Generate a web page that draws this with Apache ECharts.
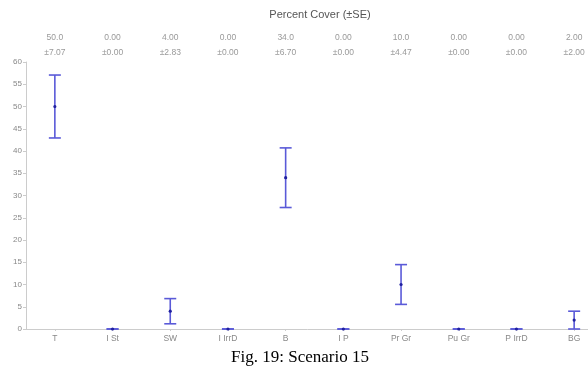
<!DOCTYPE html>
<html><head><meta charset="utf-8">
<script src="https://cdn.jsdelivr.net/npm/echarts@6/dist/echarts.min.js"></script>
<style>html,body{margin:0;padding:0;background:#fff}#c{width:588px;height:368px}</style>
</head><body><div id="c"></div>
<script>
var categories = ['T','I St','SW','I IrrD','B','I P','Pr Gr','Pu Gr','P IrrD','BG'];
var means = [50.0, 0, 4.0, 0, 34.0, 0, 10.0, 0, 0, 2.0];
var se = [7.07, 0, 2.83, 0, 6.70, 0, 4.47, 0, 0, 2.00];
var meanLabels = ['50.0','0.00','4.00','0.00','34.0','0.00','10.0','0.00','0.00','2.00'];
var seLabels = ['±7.07','±0.00','±2.83','±0.00','±6.70','±0.00','±4.47','±0.00','±0.00','±2.00'];
var yTicks = {min: 0, max: 60, interval: 5};

var topLabels = meanLabels.map(function(m, i){ return m + '\n' + seLabels[i]; });
var errData = means.map(function(m, i){ return [i, m - se[i], m + se[i], m]; });

var chart = echarts.init(document.getElementById('c'));
chart.setOption({
  animation: false,
  title: [
    {text: 'Percent Cover (±SE)', left: 315, top: 4, textAlign: 'center',
     textStyle: {fontFamily: 'Liberation Sans', fontSize: 11, fontWeight: 'normal', color: '#555'}},
    {text: 'Fig. 19: Scenario 15', left: 295, top: 344, textAlign: 'center',
     textStyle: {fontFamily: 'Liberation Serif', fontSize: 17, fontWeight: 'normal', color: '#000'}}
  ],
  grid: {left: 26, width: 577, top: 62, bottom: 39, outerBoundsMode: 'none', containLabel: false},
  xAxis: [
    {type: 'category', data: categories, position: 'bottom',
     axisLine: {lineStyle: {color: '#ccc'}},
     axisTick: {show: true, alignWithLabel: true, length: 2, lineStyle: {color: '#ccc'}},
     axisLabel: {color: '#888', fontSize: 8.5, fontFamily: 'Liberation Sans', margin: 5}},
    {type: 'category', data: topLabels, position: 'top',
     axisLine: {show: false}, axisTick: {show: false},
     axisLabel: {color: '#999', fontSize: 8.5, fontFamily: 'Liberation Sans', margin: 2, lineHeight: 15}}
  ],
  yAxis: {type: 'value', min: yTicks.min, max: yTicks.max, interval: yTicks.interval,
    axisLine: {show: true, lineStyle: {color: '#ccc'}},
    axisTick: {show: true, length: 3, lineStyle: {color: '#ccc'}},
    splitLine: {show: false},
    axisLabel: {color: '#888', fontSize: 8, fontFamily: 'Liberation Sans', margin: 4}},
  series: [{
    type: 'custom',
    data: errData,
    renderItem: function(params, api){
      var x = api.value(0);
      var lo = api.coord([x, api.value(1)]);
      var hi = api.coord([x, api.value(2)]);
      var mid = api.coord([x, api.value(3)]);
      var hw = 6;
      var st = {stroke: '#5a5ad8', lineWidth: 1.6};
      return {type: 'group', children: [
        {type: 'line', shape: {x1: hi[0], y1: hi[1], x2: lo[0], y2: lo[1]}, style: st},
        {type: 'line', shape: {x1: hi[0]-hw, y1: hi[1], x2: hi[0]+hw, y2: hi[1]}, style: st},
        {type: 'line', shape: {x1: lo[0]-hw, y1: lo[1], x2: lo[0]+hw, y2: lo[1]}, style: st},
        {type: 'circle', shape: {cx: mid[0], cy: mid[1], r: 1.6}, style: {fill: '#2020a0'}}
      ]};
    }
  }]
});
</script></body></html>
